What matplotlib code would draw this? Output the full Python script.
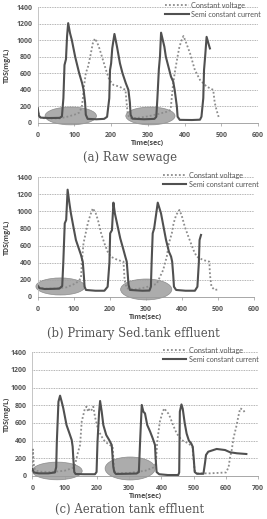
import matplotlib
matplotlib.use("Agg")
import matplotlib.pyplot as plt
from matplotlib.patches import Ellipse
from matplotlib.font_manager import FontProperties

# ---------------- data ----------------
# (a) Raw sewage
t_sc_a = [0, 3, 8, 30, 60, 66, 70, 73, 77, 80, 83, 88, 93, 102, 113, 121, 125, 129, 131, 136, 160, 181, 189, 195, 197, 200, 203, 209, 216, 224, 231, 240, 247, 251, 253, 258, 290, 318, 323, 326, 330, 333, 336, 345, 349, 363, 369, 373, 379, 381, 387, 420, 442, 446, 451, 453, 456, 460, 465, 469]
sc_a = [180, 90, 65, 60, 62, 80, 300, 700, 770, 1050, 1205, 1085, 1000, 800, 600, 480, 400, 250, 100, 50, 45, 50, 75, 300, 640, 720, 900, 1075, 920, 720, 600, 480, 400, 250, 100, 52, 45, 50, 75, 300, 650, 800, 1090, 920, 800, 560, 500, 400, 200, 76, 38, 36, 40, 76, 300, 640, 800, 1040, 960, 900]
t_cv_a = [0, 5, 20, 40, 60, 80, 100, 113, 120, 123, 126, 131, 137, 143, 150, 156, 163, 168, 175, 186, 195, 206, 222, 239, 242, 245, 250, 270, 300, 330, 355, 362, 365, 368, 373, 380, 386, 392, 397, 405, 415, 428, 442, 460, 478, 482, 487, 494]
cv_a = [170, 70, 55, 55, 56, 75, 100, 125, 190, 300, 440, 600, 680, 800, 960, 1020, 960, 900, 800, 640, 520, 460, 440, 400, 250, 117, 56, 60, 80, 110, 140, 160, 300, 440, 600, 780, 920, 1000, 1050, 960, 840, 640, 520, 440, 400, 250, 157, 56]

# (b) Primary Sed. tank effluent
t_sc_b = [0, 5, 20, 40, 60, 68, 71, 75, 79, 83, 88, 92, 99, 106, 114, 120, 125, 128, 130, 134, 160, 185, 194, 199, 201, 206, 210, 214, 222, 229, 238, 243, 247, 250, 252, 256, 290, 310, 314, 316, 319, 323, 333, 342, 349, 356, 364, 370, 373, 376, 378, 384, 410, 436, 443, 447, 449, 453]
sc_b = [130, 100, 90, 92, 95, 125, 400, 860, 900, 1255, 1095, 980, 820, 665, 565, 490, 410, 250, 117, 79, 70, 70, 117, 400, 743, 780, 1103, 978, 821, 684, 548, 470, 411, 250, 137, 79, 70, 72, 117, 400, 743, 800, 1103, 978, 821, 665, 528, 470, 411, 250, 117, 79, 70, 70, 117, 400, 665, 724]
t_cv_b = [0, 20, 50, 80, 106, 120, 123, 127, 133, 139, 146, 153, 161, 167, 176, 185, 194, 203, 222, 238, 241, 247, 270, 300, 330, 348, 358, 364, 372, 377, 384, 393, 399, 408, 418, 432, 441, 459, 476, 478, 482, 491, 500]
cv_b = [110, 95, 95, 110, 157, 216, 430, 626, 743, 861, 958, 1037, 978, 900, 743, 626, 528, 469, 430, 411, 196, 98, 85, 110, 150, 313, 469, 626, 743, 861, 958, 1017, 958, 821, 704, 548, 469, 430, 411, 250, 117, 79, 85]

# (c) Aeration tank effluent
t_sc_c = [0, 5, 20, 50, 70, 74, 76, 81, 86, 91, 96, 106, 115, 122, 125, 127, 130, 134, 160, 194, 199, 202, 207, 210, 215, 220, 229, 238, 246, 249, 251, 254, 259, 290, 323, 330, 334, 339, 344, 349, 356, 365, 373, 380, 382, 385, 393, 420, 452, 455, 457, 462, 466, 472, 478, 485, 492, 497, 500, 503, 510, 530, 535, 538, 545, 571, 597, 613, 634, 663]
sc_c = [80, 40, 30, 30, 40, 100, 389, 841, 909, 841, 766, 577, 483, 408, 332, 200, 45, 23, 20, 20, 45, 389, 728, 849, 728, 577, 464, 408, 351, 200, 100, 45, 23, 25, 28, 45, 400, 804, 728, 709, 577, 502, 426, 351, 200, 45, 20, 11, 11, 40, 728, 810, 760, 600, 480, 400, 370, 330, 200, 45, 25, 25, 150, 238, 275, 306, 294, 268, 257, 249]
t_cv_c = [0, 2, 4, 8, 20, 60, 100, 125, 132, 137, 142, 148, 153, 158, 163, 168, 173, 178, 184, 189, 194, 204, 215, 225, 240, 249, 251, 254, 260, 300, 350, 378, 383, 387, 395, 404, 409, 416, 421, 426, 436, 447, 462, 483, 496, 499, 503, 510, 550, 600, 608, 612, 618, 623, 633, 638, 644, 654, 659]
cv_c = [60, 300, 150, 70, 50, 45, 60, 90, 125, 200, 275, 351, 615, 690, 766, 785, 728, 766, 747, 785, 672, 521, 445, 389, 351, 332, 200, 60, 30, 35, 60, 100, 162, 389, 615, 728, 766, 728, 709, 672, 577, 483, 408, 370, 332, 200, 60, 30, 30, 40, 100, 200, 300, 426, 577, 672, 766, 747, 709]

# highlighted regions (center x, center y, width, height) in data units
ell_a = [(90, 85, 140, 215), (307, 85, 134, 215)]
ell_b = [(63, 120, 136, 200), (301, 85, 142, 245)]
ell_c = [(77, 57, 155, 200), (303, 85, 155, 260)]

captions = ["(a) Raw sewage", "(b) Primary Sed.tank effluent", "(c) Aeration tank effluent"]
legend_labels = ["Constant voltage", "Semi constant current"]
y_ticks = [0, 200, 400, 600, 800, 1000, 1200, 1400]

# ---------------- figure ----------------
W, H = 267, 519
fig = plt.figure(figsize=(W / 100, H / 100), dpi=100)

def px_axes(left, right, top, bottom):
    return fig.add_axes([left / W, 1 - bottom / H, (right - left) / W, (bottom - top) / H])

BOLD = FontProperties(family="Open Sans", weight="bold", size=5.0)

def panel(ax, left_px, width_px, t_cv, cv, t_sc, sc, xmax, ells, caption, cap_xy):
    for (cx, cy, w, h) in ells:
        ax.add_patch(Ellipse((cx, cy), w, h, facecolor="#a3a3a3", edgecolor="#858585",
                             lw=0.5, alpha=0.9, zorder=1, clip_on=False))
    l1, = ax.plot(t_cv, cv, linestyle=(0, (1, 1.2)), color="#8c8c8c", lw=1.3, zorder=3)
    l2, = ax.plot(t_sc, sc, linestyle="-", color="#505050", lw=1.5, zorder=4)
    ax.set_xlim(0, xmax)
    ax.set_ylim(0, 1400)
    ax.set_yticks(y_ticks)
    ax.set_xticks(list(range(0, xmax + 1, 100)))
    ax.yaxis.grid(True, linestyle=(0, (1, 1)), color="#9a9a9a", lw=0.6)
    ax.set_axisbelow(True)
    for s in ["top", "right"]:
        ax.spines[s].set_visible(False)
    ax.spines["left"].set_color("#bbbbbb")
    ax.spines["bottom"].set_color("#999999")
    ax.spines["left"].set_linewidth(0.6)
    ax.spines["bottom"].set_linewidth(0.6)
    ax.tick_params(axis="y", length=0, pad=4)
    ax.tick_params(axis="x", length=2, width=0.5, color="#999999", pad=4.5)
    for lab in ax.get_xticklabels() + ax.get_yticklabels():
        lab.set_fontproperties(BOLD)
        lab.set_color("#555555")
    ax.set_ylabel("TDS(mg/L)", fontproperties=BOLD, color="#444444")
    ax.yaxis.set_label_coords((10.5 - left_px) / width_px, 0.5)
    ax.set_xlabel("Time(sec)", fontproperties=BOLD, color="#444444", labelpad=1)
    leg = ax.legend([l1, l2], legend_labels, loc="upper left", bbox_to_anchor=(0.58, 1.045),
                    frameon=False, prop=dict(family="Lato", size=5.2), handlelength=3.2,
                    handletextpad=0.35, labelspacing=0.25, borderpad=0, borderaxespad=0)
    for t in leg.get_texts():
        t.set_color("#555555")
    fig.text(cap_xy[0] / W, 1 - cap_xy[1] / H, caption, ha="center", va="center",
             family="DejaVu Serif", size=8.4, color="#555555")

ax_a = px_axes(37.7, 258, 7, 123)
panel(ax_a, 37.7, 220.3, t_cv_a, cv_a, t_sc_a, sc_a, 600, ell_a, captions[0], (130, 158))
ax_b = px_axes(37.7, 254, 177.3, 296.7)
panel(ax_b, 37.7, 216.3, t_cv_b, cv_b, t_sc_b, sc_b, 600, ell_b, captions[1], (133, 333))
ax_c = px_axes(32.3, 258.3, 352.3, 476)
panel(ax_c, 32.3, 226.0, t_cv_c, cv_c, t_sc_c, sc_c, 700, ell_c, captions[2], (130, 509))

fig.savefig("out.png", dpi=100)
